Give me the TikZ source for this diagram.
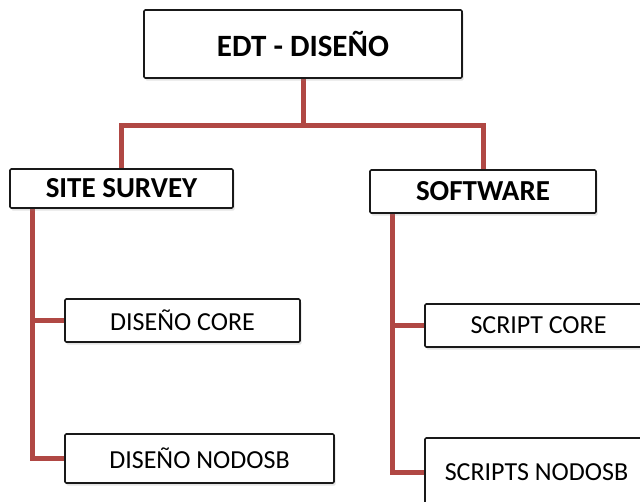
\documentclass[tikz,border=0pt]{standalone}
\usepackage{fontspec}
\setmainfont{Carlito}
\usetikzlibrary{shadows,backgrounds,calc}
\definecolor{linkred}{RGB}{176,72,68}
\tikzset{
  box/.style={draw=black!90, line width=1.6pt, fill=white, rounded corners=1.2pt,
    inner sep=0pt, align=center,
    drop shadow={shadow xshift=1.5pt, shadow yshift=-2.5pt, opacity=0.22}},
  link/.style={draw=linkred, line width=5pt, line join=miter, line cap=rect}
}
\begin{document}
\begin{tikzpicture}[x=1pt,y=-1pt]
\useasboundingbox (0,0) rectangle (640,501);
\clip (0,0) rectangle (640,501);
\node[box, minimum width=318pt, minimum height=68pt, font=\fontsize{31}{34}\selectfont\bfseries] (top) at (303,44) {EDT - DISEÑO};
\node[box, minimum width=223pt, minimum height=39pt, font=\fontsize{29}{31}\selectfont\bfseries] (ss) at (121.5,188.5) {SITE SURVEY};
\node[box, minimum width=226pt, minimum height=43pt, font=\fontsize{29}{31}\selectfont\bfseries] (sw) at (483,191.5) {SOFTWARE};
\node[box, minimum width=235pt, minimum height=43pt, font=\fontsize{26}{28}\selectfont] (dc) at (182.5,320.5) {DISEÑO CORE};
\node[box, minimum width=269pt, minimum height=49pt, font=\fontsize{26}{28}\selectfont] (dn) at (199.5,458.5) {DISEÑO NODOSB};
\node[box, minimum width=227pt, minimum height=43pt, font=\fontsize{26}{28}\selectfont] (sc) at (538.5,325.5) {SCRIPT CORE};
\node[box, minimum width=223pt, minimum height=68pt, font=\fontsize{26}{28}\selectfont] (sn) at (536.5,472) {SCRIPTS NODOSB};
\coordinate (j) at (303,125);
\coordinate (lt) at ($(ss.south west)+(23,0)$);
\coordinate (rt) at ($(sw.south west)+(23,0)$);
\begin{scope}[on background layer]
\draw[link] (top.south) -- (j);
\draw[link] (ss.north) |- (j) -| (sw.north);
\draw[link] (lt) |- (dn.west);
\draw[link] (dc.west) -- (dc.west -| lt);
\draw[link] (rt) |- (sn.west);
\draw[link] (sc.west) -- (sc.west -| rt);
\end{scope}
\end{tikzpicture}
\end{document}
